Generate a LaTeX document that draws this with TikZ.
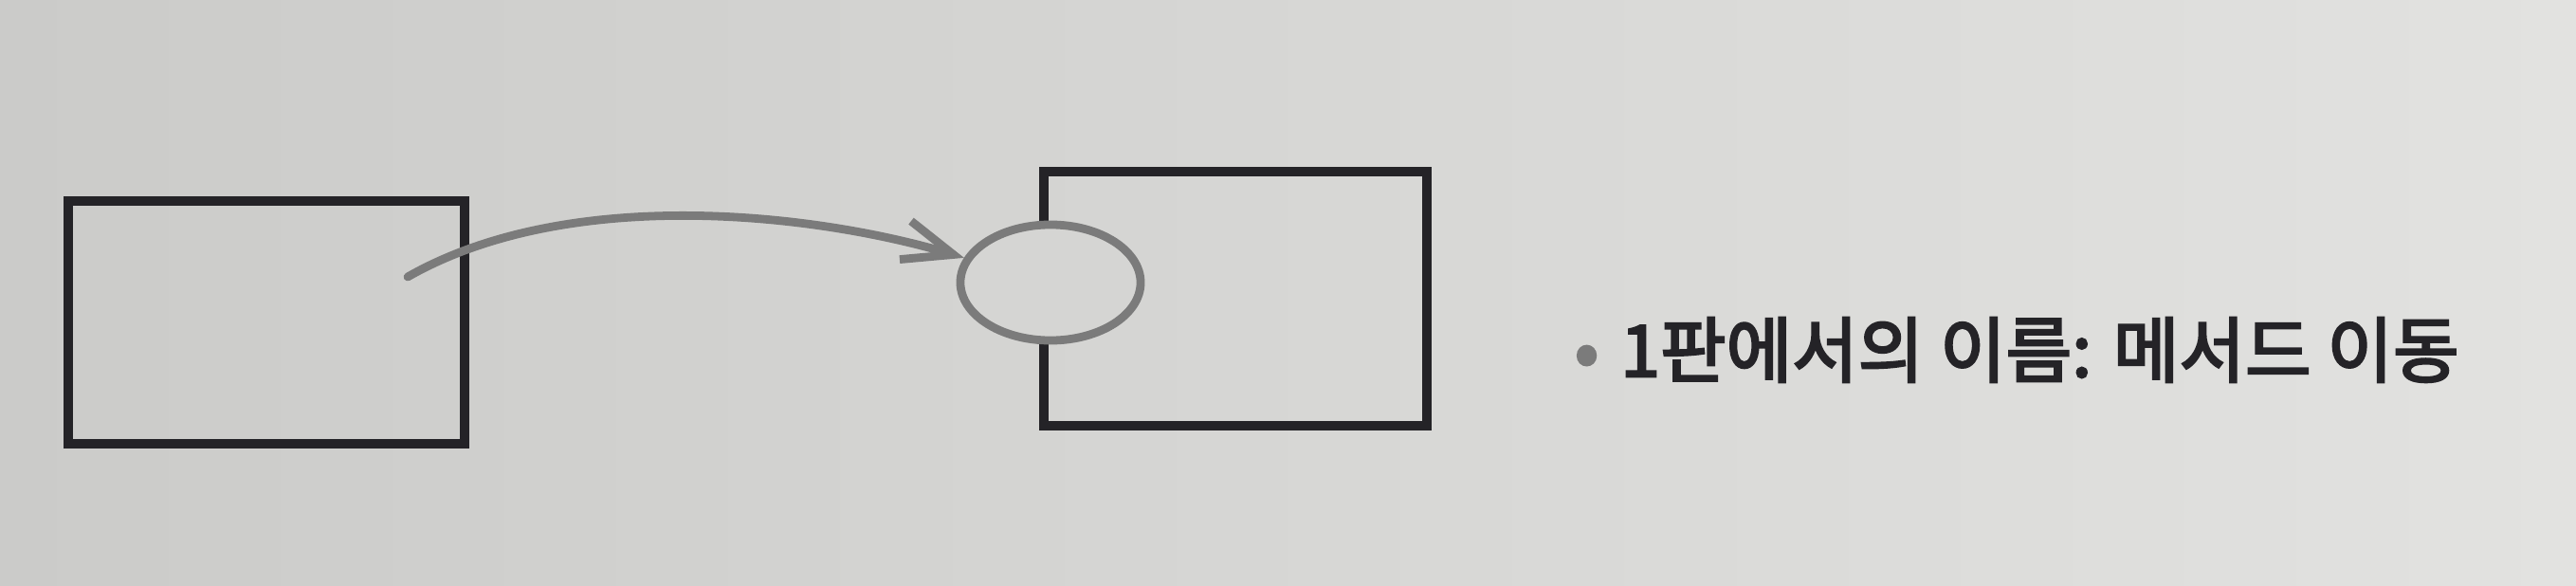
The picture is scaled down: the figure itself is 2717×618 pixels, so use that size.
\documentclass[tikz,border=0pt]{standalone}
\usepackage{fontspec}
\usetikzlibrary{arrows.meta,positioning,shapes.geometric}
\newfontfamily\krfont{Noto Sans CJK KR}[FakeBold=3.2]
\definecolor{paperleft}{HTML}{CBCBC9}
\definecolor{paperright}{HTML}{E2E2E0}
\definecolor{papermid}{HTML}{D5D5D3}
\definecolor{ink}{HTML}{242327}
\definecolor{pencil}{HTML}{7B7B7B}
\begin{document}
\begin{tikzpicture}[x=0.01cm,y=-0.01cm,>=Latex]
\shade[left color=paperleft,right color=paperright] (0,0) rectangle (2717,618);
\useasboundingbox (0,0) rectangle (2717,618);
\tikzset{classbox/.style={draw=ink,line width=2.85pt,minimum width=4.1cm,minimum height=2.6cm,inner sep=0pt}}
\node[classbox,minimum width=4.17cm,minimum height=2.55cm] (src) at (281,340) {};
\node[classbox,minimum width=4.03cm,minimum height=2.68cm] (dst) at (1303,315) {};
\node[ellipse,draw=pencil,fill=papermid,line width=2.5pt,minimum width=1.9cm,minimum height=1.22cm,inner sep=0pt] (meth) at (1108,298) {};
\coordinate (start) at (430,292);
\draw[pencil,line width=2.5pt,line cap=round,-{Straight Barb[length=15pt,width=12pt,line width=2.5pt]}] (start) .. controls (600,195) and (860,225) .. (meth.164);
\node[anchor=west,font=\krfont\fontsize{21.5}{25}\selectfont,text=ink,inner sep=0pt] (label) at (1660,369) {{\color{pencil}\textbullet}\hspace{0.3em}1판에서의 이름: 메서드 이동};
\end{tikzpicture}
\end{document}
